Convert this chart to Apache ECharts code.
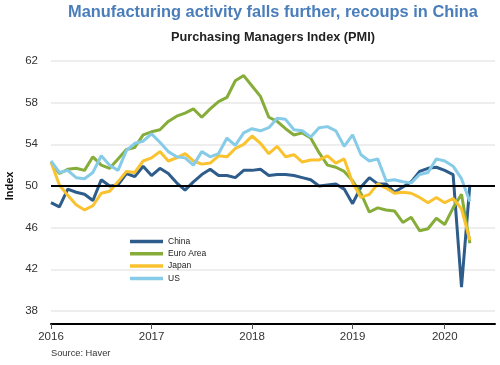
<!DOCTYPE html>
<html>
<head>
<meta charset="utf-8">
<script src="https://cdn.jsdelivr.net/npm/echarts@6/dist/echarts.min.js"></script>
<style>html,body{margin:0;padding:0;background:#fff;}#c{width:500px;height:365px;}</style>
</head>
<body>
<div id="c"></div>
<script>
// Monthly PMI, Jan 2016 .. Mar 2020
const seriesNames = ['China', 'Euro Area', 'Japan', 'US'];
const china = [48.4,48.0,49.7,49.4,49.2,48.6,50.6,50.0,50.1,51.2,50.9,51.9,
  51.0,51.7,51.2,50.3,49.6,50.4,51.1,51.6,51.0,51.0,50.8,51.5,
  51.5,51.6,51.0,51.1,51.1,51.0,50.8,50.6,50.0,50.1,50.2,49.7,
  48.3,49.9,50.8,50.2,50.2,49.4,49.9,50.4,51.4,51.7,51.8,51.5,
  51.1,40.3,50.1];
const euroArea = [52.3,51.2,51.6,51.7,51.5,52.8,52.0,51.7,52.6,53.5,53.7,54.9,
  55.2,55.4,56.2,56.7,57.0,57.4,56.6,57.4,58.1,58.5,60.1,60.6,
  59.6,58.6,56.6,56.2,55.5,54.9,55.1,54.6,53.2,52.0,51.8,51.4,
  50.5,49.3,47.5,47.9,47.7,47.6,46.5,47.0,45.7,45.9,46.9,46.3,
  47.9,49.2,44.5];
const japan = [52.3,50.1,49.1,48.2,47.7,48.1,49.3,49.5,50.4,51.4,51.3,52.4,
  52.7,53.3,52.4,52.7,53.1,52.4,52.1,52.2,52.9,52.8,53.6,54.0,
  54.8,54.1,53.1,53.8,52.8,53.0,52.3,52.5,52.5,52.9,52.2,52.6,
  50.3,48.9,49.2,50.2,49.8,49.3,49.4,49.3,48.9,48.4,48.9,48.4,
  48.8,47.8,44.8];
const us = [52.4,51.3,51.5,50.8,50.7,51.3,52.9,52.0,51.5,53.4,54.1,54.3,
  55.0,54.2,53.3,52.8,52.7,52.0,53.3,52.8,53.1,54.6,53.9,55.1,
  55.5,55.3,55.6,56.5,56.4,55.4,55.3,54.7,55.6,55.7,55.3,53.8,
  54.9,53.0,52.4,52.6,50.5,50.6,50.4,50.3,51.1,51.3,52.6,52.4,
  51.9,50.7,48.5];
const xTickLabels = ['2016', '2017', '2018', '2019', '2020'];
const xTickMonths = [0, 12, 24, 36, 47];
const yTickValues = [38, 42, 46, 50, 54, 58, 62];
const threshold = 50;

const colors = ['#2e5d8b', '#86ad3a', '#f9c22e', '#86cbe8'];
const FONT = '"Liberation Sans", Arial, sans-serif';

function toPairs(arr) { return arr.map((v, i) => [i, v]); }
const allData = [china, euroArea, japan, us];

const chart = echarts.init(document.getElementById('c'), null, {renderer: 'canvas'});
const series = seriesNames.map((n, k) => ({
  name: n,
  type: 'line',
  data: toPairs(allData[k]),
  showSymbol: false,
  symbol: 'none',
  z: 3,
  lineStyle: {color: colors[k], width: 3},
  itemStyle: {color: colors[k]},
  emphasis: {disabled: true}
}));
series.unshift({
  type: 'line', data: [], z: 2, silent: true,
  markLine: {
    silent: true, symbol: 'none', label: {show: false},
    lineStyle: {color: '#000', width: 2, type: 'solid'},
    data: [{yAxis: threshold}]
  }
});

chart.setOption({
  animation: false,
  backgroundColor: '#fff',
  textStyle: {fontFamily: FONT},
  grid: {left: 51, right: 5, top: 61, bottom: 41, containLabel: false},
  graphic: [
    {type: 'text', x: 273, y: 12, style: {text: 'Manufacturing activity falls further, recoups in China', font: 'bold 16.4px ' + FONT, fill: '#4a7ebb', textAlign: 'center', textVerticalAlign: 'middle'}},
    {type: 'text', x: 273, y: 37, style: {text: 'Purchasing Managers Index (PMI)', font: 'bold 12.75px ' + FONT, fill: '#222', textAlign: 'center', textVerticalAlign: 'middle'}},
    {type: 'text', x: 9.5, y: 186, rotation: Math.PI / 2, style: {text: 'Index', font: 'bold 11px ' + FONT, fill: '#111', textAlign: 'center', textVerticalAlign: 'middle'}},
    {type: 'text', x: 51, y: 353, style: {text: 'Source: Haver', font: '9.3px ' + FONT, fill: '#333', textAlign: 'left', textVerticalAlign: 'middle'}}
  ],
  legend: {
    orient: 'vertical', left: 125, top: 231,
    data: seriesNames, icon: 'rect', itemWidth: 33, itemHeight: 3.5, itemGap: 1.3,
    textStyle: {fontSize: 8.5, color: '#222', fontFamily: FONT, lineHeight: 11}
  },
  xAxis: {
    type: 'value', min: 0, max: 53,
    axisLine: {show: true, lineStyle: {color: '#000', width: 2}},
    axisTick: {show: true, customValues: xTickMonths, length: 5, lineStyle: {color: '#555', width: 1}},
    axisLabel: {customValues: xTickMonths, formatter: v => xTickLabels[xTickMonths.indexOf(v)], fontSize: 11.5, color: '#333', margin: 7, fontFamily: FONT},
    splitLine: {show: false}
  },
  yAxis: {
    type: 'value', min: 36.75, max: 62,
    axisLine: {show: false},
    axisTick: {show: false, customValues: yTickValues},
    axisLabel: {customValues: yTickValues, fontSize: 11.5, color: '#333', margin: 13, fontFamily: FONT},
    splitLine: {show: true, lineStyle: {color: '#e8e8e8', width: 1.5}}
  },
  series: series
});
</script>
</body>
</html>
